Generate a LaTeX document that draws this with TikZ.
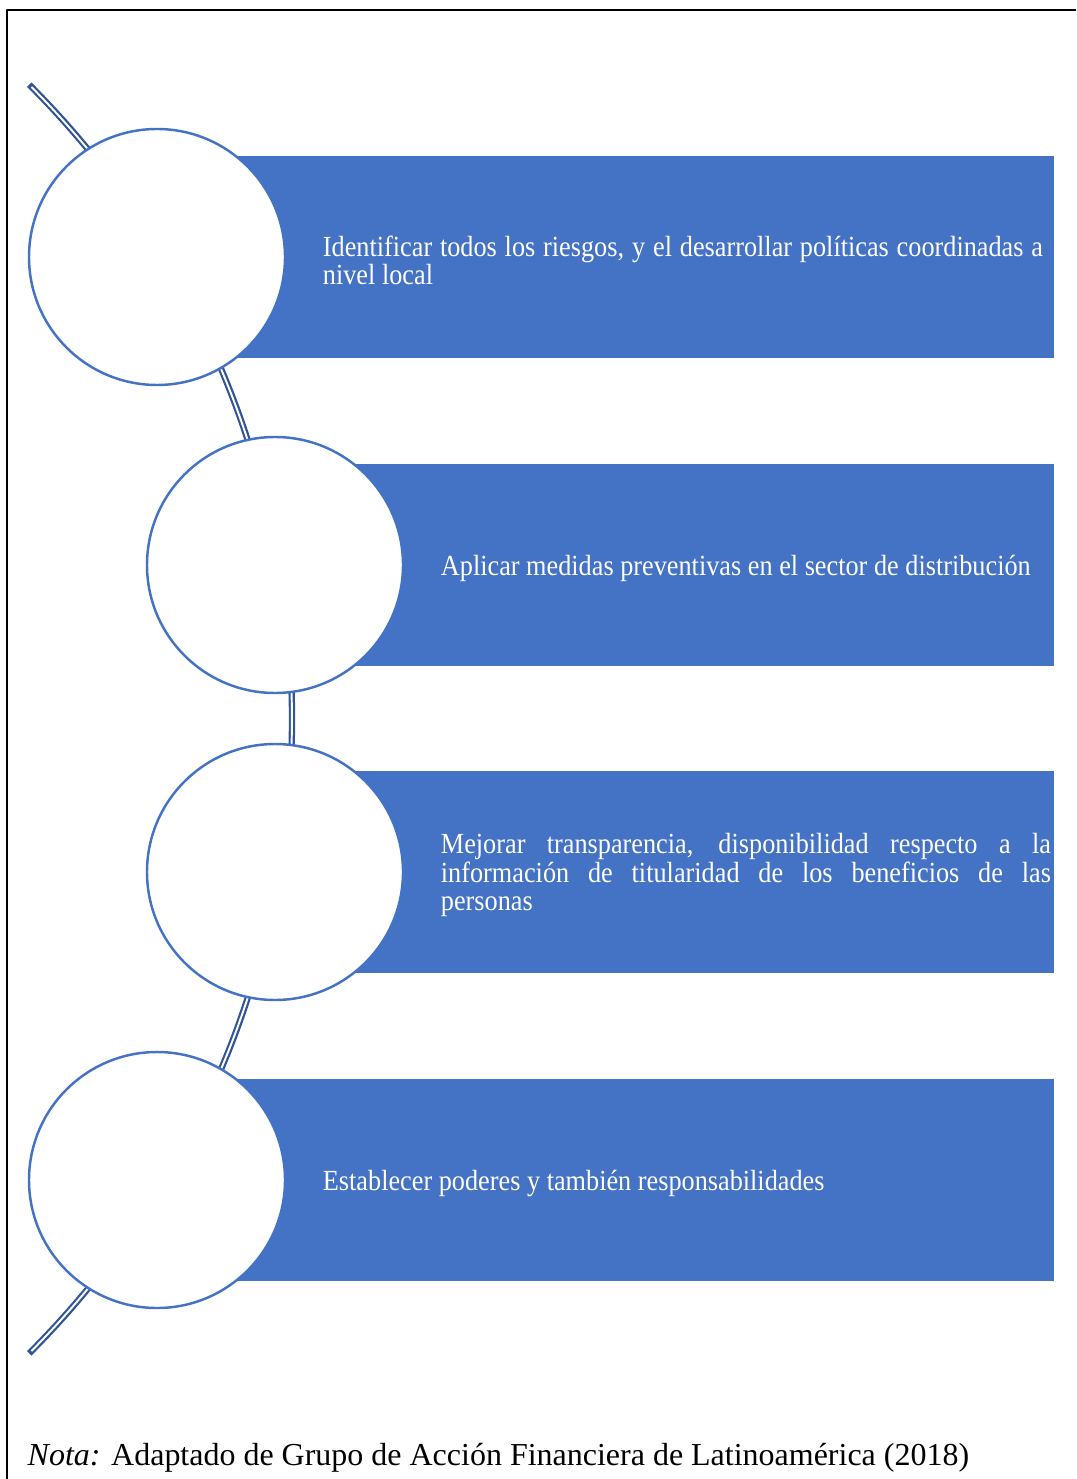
\documentclass[tikz,border=0pt]{standalone}
\usepackage{fontspec}
\setmainfont{Liberation Serif}
\newfontfamily\estrecha[FakeStretch=0.9]{Liberation Serif}
\usetikzlibrary{positioning}
\definecolor{azul}{HTML}{4472C4}
\definecolor{azuloscuro}{HTML}{2F5597}
\tikzset{
  circulo/.style={circle, draw=azul, fill=white, line width=0.7pt, minimum size=2.56cm, inner sep=0pt},
  texto/.style={text=white, align=justify, inner sep=0pt, font=\estrecha\fontsize{8.3}{8}\selectfont},
  nota/.style={inner sep=0pt, font=\fontsize{9.1}{11}\selectfont}
}
\begin{document}
\begin{tikzpicture}[line join=round]
	\def\radio{8.97}
	\useasboundingbox (0,0) rectangle (10.76,-14.79);
	% marco
	\draw[line width=0.4pt] (0.07,-14.79) -- (0.07,-0.10) -- (10.76,-0.10);
	% arco de fondo
	\coordinate (C) at (-6.05,-7.19);
	\draw[azuloscuro, line width=1.8pt] ([shift={(45:\radio)}]C) arc(45:-45:\radio);
	\draw[white, line width=0.55pt] ([shift={(44.8:\radio)}]C) arc(44.8:-44.8:\radio);
	% pasos
	\foreach \n/\cx/\cy/\ancho/\txt in {
		1/1.57/-2.57/7.2/{Identificar todos los riesgos, y el desarrollar políticas coordinadas a nivel local},
		2/2.75/-5.65/6.1/{Aplicar medidas preventivas en el sector de distribución},
		3/2.75/-8.72/6.1/{Mejorar transparencia, disponibilidad respecto a la\linebreak información de titularidad de los beneficios de las\linebreak personas},
		4/1.57/-11.80/7.2/{Establecer poderes y también responsabilidades}}{
		\fill[azul] (\cx,\cy+1.01) rectangle (10.54,\cy-1.01);
		\node[circulo] (c\n) at (\cx,\cy) {};
		\node[texto, text width=\ancho cm, anchor=west, right=0.36cm of c\n, yshift=-0.03cm] (t\n) {\txt};
	}
	\node[nota, anchor=base west] (nota) at (0.27,-14.65) {\textit{Nota:} Adaptado de Grupo de Acción Financiera de Latinoamérica (2018)};
\end{tikzpicture}
\end{document}
